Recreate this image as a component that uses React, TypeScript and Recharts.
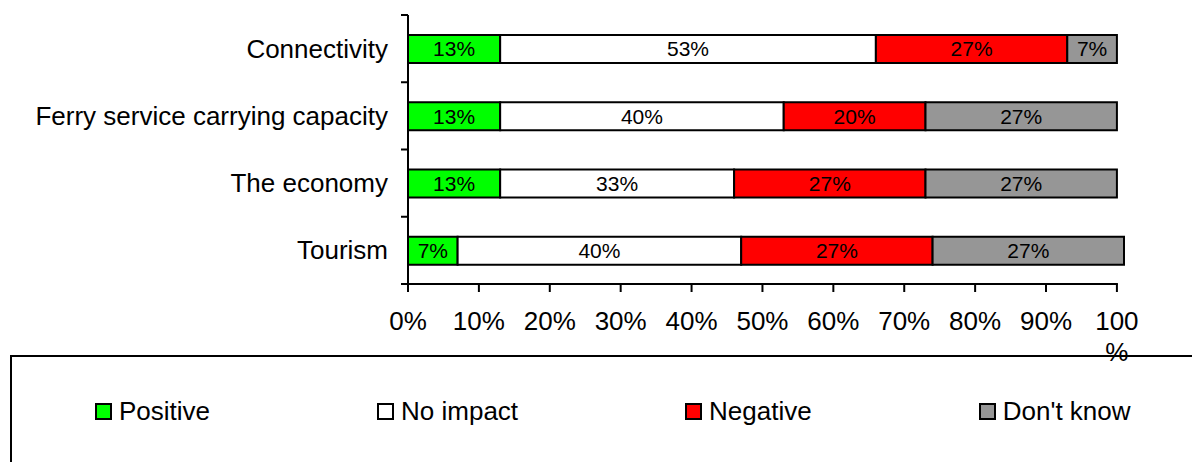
import React from 'react';
import { BarChart, Bar, XAxis, YAxis, LabelList } from 'recharts';

const categories = ['Connectivity', 'Ferry service carrying capacity', 'The economy', 'Tourism'];
const positive = [13, 13, 13, 7];
const noImpact = [53, 40, 33, 40];
const negative = [27, 20, 27, 27];
const dontKnow = [7, 27, 27, 27];
const xTicks = [0, 10, 20, 30, 40, 50, 60, 70, 80, 90, 100];

const series = [
  { key: 'positive', name: 'Positive', color: '#00ff00', values: positive },
  { key: 'noImpact', name: 'No impact', color: '#ffffff', values: noImpact },
  { key: 'negative', name: 'Negative', color: '#ff0000', values: negative },
  { key: 'dontKnow', name: "Don't know", color: '#969696', values: dontKnow },
];

const data = categories.map((category, i) => {
  const row: any = { category };
  series.forEach((s) => {
    row[s.key] = s.values[i];
  });
  return row;
});

const FONT = '"Liberation Sans", Arial, sans-serif';
const W = 1192;
const H = 462;
// Tourism adds up to 101 (rounding), so the axis runs to 101 and the
// right margin leaves the 100% tick where the original had it
const MARGIN = { top: 15, right: 68, bottom: 118, left: 0 };
const Y_AXIS_W = 408;
const X_AXIS_H = 60;
const TICK = 8;
const BAND = (H - MARGIN.top - MARGIN.bottom - X_AXIS_H) / categories.length;
const ORIGIN_X = MARGIN.left + Y_AXIS_W;

// category label plus the small tick marks between categories
const CategoryTick = (props: any) => {
  const { x, y, payload, index } = props;
  const axisX = x + 20;
  const last = index === categories.length - 1;
  return (
    <g>
      <text x={x} y={y} dy={9} textAnchor="end" fill="#000" fontSize={26} fontFamily={FONT}>
        {payload.value}
      </text>
      <line x1={axisX - 7} x2={axisX} y1={y - BAND / 2} y2={y - BAND / 2} stroke="#000" strokeWidth={2} />
      {last && (
        <line x1={axisX - 7} x2={axisX} y1={y + BAND / 2} y2={y + BAND / 2} stroke="#000" strokeWidth={2} />
      )}
    </g>
  );
};

const PercentTick = (props: any) => {
  const { x, y, payload } = props;
  const v = payload.value;
  const lastTick = v === xTicks[xTicks.length - 1];
  return (
    <g>
      {/* baseline stops at the 100% tick */}
      {lastTick && <line x1={ORIGIN_X - 1} x2={x + 1} y1={y - TICK} y2={y - TICK} stroke="#000" strokeWidth={2} />}
      <text x={x} y={y + 38} textAnchor="middle" fill="#000" fontSize={26} fontFamily={FONT}>
        {v === 100 ? (
          <>
            <tspan x={x}>100</tspan>
            <tspan x={x} dy={31}>%</tspan>
          </>
        ) : (
          `${v}%`
        )}
      </text>
    </g>
  );
};

const LegendBox = () => (
  <div
    style={{
      position: 'absolute',
      left: 10,
      top: 355,
      width: 1200,
      height: 130,
      border: '2px solid #000',
      boxSizing: 'border-box',
      background: 'transparent',
    }}
  >
    <div
      style={{
        position: 'absolute',
        left: 83,
        top: 39,
        display: 'flex',
        alignItems: 'center',
        gap: 167,
        fontFamily: FONT,
        fontSize: 26,
        whiteSpace: 'nowrap',
      }}
    >
      {series.map((s) => (
        <div key={s.key} style={{ display: 'flex', alignItems: 'center' }}>
          <span
            style={{
              width: 17,
              height: 17,
              background: s.color,
              border: '2px solid #000',
              boxSizing: 'border-box',
              marginRight: 7,
            }}
          />
          <span>{s.name}</span>
        </div>
      ))}
    </div>
  </div>
);

export default function App() {
  return (
    <div
      style={{
        position: 'absolute',
        left: 0,
        top: 0,
        width: W,
        height: H,
        overflow: 'hidden',
        background: '#fff',
        fontFamily: FONT,
      }}
    >
      <BarChart width={W} height={H} data={data} layout="vertical" margin={MARGIN} barSize={28}>
        <XAxis
          type="number"
          domain={[0, 'dataMax']}
          ticks={xTicks}
          height={X_AXIS_H}
          tickSize={TICK}
          tickMargin={0}
          axisLine={false}
          tickLine={{ stroke: '#000', strokeWidth: 2 }}
          tick={<PercentTick />}
          interval={0}
        />
        <YAxis
          type="category"
          dataKey="category"
          width={Y_AXIS_W}
          tickLine={false}
          tickSize={7}
          tickMargin={13}
          axisLine={{ stroke: '#000', strokeWidth: 2 }}
          tick={<CategoryTick />}
          interval={0}
        />
        {series.map((s) => (
          <Bar
            key={s.key}
            dataKey={s.key}
            name={s.name}
            stackId="a"
            fill={s.color}
            stroke="#000"
            strokeWidth={2}
            isAnimationActive={false}
          >
            <LabelList
              dataKey={s.key}
              position="center"
              formatter={(v: any) => `${v}%`}
              fill="#000"
              fontSize={21}
              fontFamily={FONT}
            />
          </Bar>
        ))}
      </BarChart>
      <LegendBox />
    </div>
  );
}
